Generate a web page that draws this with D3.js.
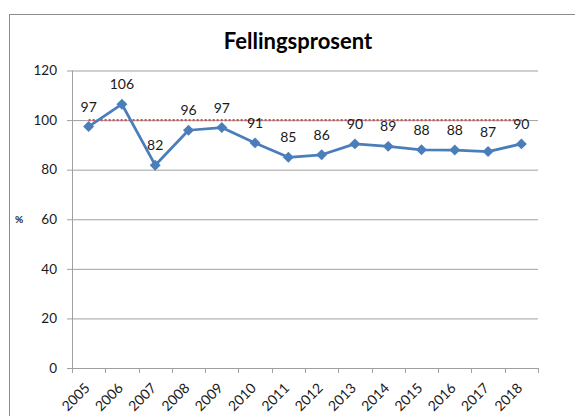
<!DOCTYPE html>
<html>
<head>
<meta charset="utf-8">
<script src="https://cdn.jsdelivr.net/npm/d3@7"></script>
<style>
  body { margin: 0; background: #fff; }
  svg { display: block; font-family: Lato, "Open Sans", sans-serif; }
</style>
</head>
<body>
<svg id="chart" width="575" height="416"></svg>
<script>
  // data
  var years = ['2005', '2006', '2007', '2008', '2009', '2010', '2011',
               '2012', '2013', '2014', '2015', '2016', '2017', '2018'];
  var fellingsprosent = [97.4, 106.4, 81.8, 95.9, 97.0, 90.8, 85.0,
                         86.0, 90.4, 89.4, 88.0, 87.9, 87.3, 90.4];
  var target = [100, 100, 100, 100, 100, 100, 100,
                100, 100, 100, 100, 100, 100, 100];
  var yTicks = [0, 20, 40, 60, 80, 100, 120];

  var margin = { top: 70.5, left: 72, right: 37, bottom: 48 };
  var svg = d3.select('#chart');
  var W = +svg.attr('width'), H = +svg.attr('height');
  var width = W - margin.left - margin.right,
      height = 368 - margin.top;

  var x = d3.scaleBand().domain(years).range([0, width]);
  var y = d3.scaleLinear().domain([0, 120]).range([height, 0]);
  var cx = function (d, i) { return x(years[i]) + x.bandwidth() / 2; };

  // outer chart frame (runs off the right and bottom edges)
  svg.append('rect')
    .attr('x', 9.5).attr('y', 14.5)
    .attr('width', W).attr('height', H)
    .attr('fill', 'none')
    .attr('stroke', '#8c8c8c');

  svg.append('text')
    .attr('x', 298).attr('y', 48.5)
    .attr('text-anchor', 'middle')
    .attr('font-size', 22)
    .attr('font-weight', 'bold')
    .attr('fill', '#000')
    .text('Fellingsprosent');

  svg.append('text')
    .attr('x', 19).attr('y', 223)
    .attr('text-anchor', 'middle')
    .attr('font-size', 10)
    .attr('font-weight', 'bold')
    .attr('fill', '#222')
    .text('%');

  var g = svg.append('g')
    .attr('transform', 'translate(' + margin.left + ',' + margin.top + ')');

  // gridlines + y labels
  var yAxis = g.append('g')
    .call(d3.axisLeft(y).tickValues(yTicks).tickSize(-width - 5).tickPadding(10))
    .attr('transform', 'translate(-5,0)');
  yAxis.select('.domain').remove();
  yAxis.selectAll('line')
    .attr('x1', 0).attr('x2', width + 5)
    .attr('stroke', '#a0a0a0');
  yAxis.selectAll('text')
    .attr('font-size', 13.5).attr('font-family', 'Lato, sans-serif')
    .attr('fill', '#1a1a1a');

  g.append('line')
    .attr('x1', 0.5).attr('x2', 0.5)
    .attr('y1', 0).attr('y2', height)
    .attr('stroke', '#a0a0a0');

  // x axis: ticks on band edges, labels at band centres
  var edges = years.map(function (d) { return x(d); }).concat([width]);
  g.append('g').selectAll('line')
    .data(edges)
    .join('line')
      .attr('x1', function (d) { return Math.round(d) + 0.5; })
      .attr('x2', function (d) { return Math.round(d) + 0.5; })
      .attr('y1', height).attr('y2', height + 5)
      .attr('stroke', '#a0a0a0');

  var xAxis = g.append('g')
    .attr('transform', 'translate(0,' + height + ')')
    .call(d3.axisBottom(x).tickSize(0).tickPadding(0));
  xAxis.select('.domain').attr('stroke', '#a0a0a0');
  xAxis.selectAll('text')
    .attr('font-size', 14).attr('font-family', 'Lato, sans-serif')
    .attr('fill', '#1a1a1a')
    .attr('text-anchor', 'end')
    .attr('dy', 0)
    .attr('transform', 'translate(2,21) rotate(-45)');

  // 100 % reference line
  g.append('path')
    .datum(target)
    .attr('fill', 'none')
    .attr('stroke', '#d2504c')
    .attr('stroke-width', 2.25)
    .attr('stroke-dasharray', '2,2')
    .attr('d', d3.line().x(cx).y(function (d) { return y(d); }));

  // main series
  g.append('path')
    .datum(fellingsprosent)
    .attr('fill', 'none')
    .attr('stroke', '#4a7ebb')
    .attr('stroke-width', 2.75)
    .attr('stroke-linejoin', 'round')
    .attr('d', d3.line().x(cx).y(function (d) { return y(d); }));

  g.selectAll('path.marker')
    .data(fellingsprosent)
    .join('path')
      .attr('class', 'marker')
      .attr('fill', '#4a7ebb')
      .attr('d', d3.symbol(d3.symbolSquare, 60))
      .attr('transform', function (d, i) {
        return 'translate(' + cx(d, i) + ',' + y(d) + ') rotate(45)';
      });

  g.selectAll('text.value')
    .data(fellingsprosent)
    .join('text')
      .attr('class', 'value')
      .attr('x', cx)
      .attr('y', function (d) { return y(d) - 15; })
      .attr('text-anchor', 'middle')
      .attr('font-size', 14)
      .attr('fill', '#1a1a1a')
      .text(function (d) { return d3.format('.0f')(d); });
</script>
</body>
</html>
